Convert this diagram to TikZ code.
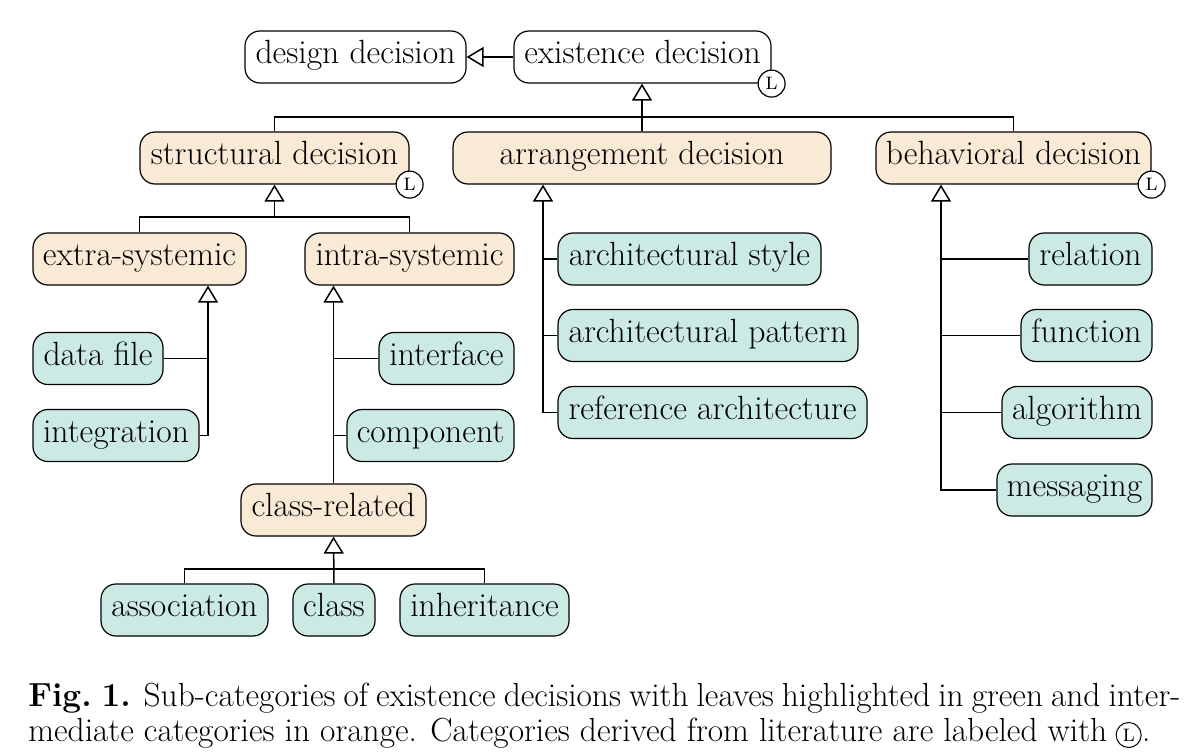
\documentclass[tikz,border=0pt]{standalone}
\usetikzlibrary{arrows.meta}
\definecolor{orng}{RGB}{248,234,212}
\definecolor{grn}{RGB}{204,234,228}
\newcommand{\dfont}{\fontsize{16.8}{20}\selectfont}
\newcommand{\cfont}{\fontsize{16.7}{20}\selectfont}
\begin{document}
\begin{tikzpicture}[x=0.5pt,y=-0.5pt,
  box/.style={draw, rounded corners=7.5pt, minimum height=26pt, inner sep=0pt, font=\dfont, line width=0.6pt, text height=0.88em, text depth=0.2em},
  plain/.style={box, fill=white},
  inter/.style={box, fill=orng},
  leaf/.style={box, fill=grn},
  inh/.style={-{Triangle[open,width=10pt,length=8.5pt]}, line width=0.75pt},
  con/.style={line width=0.7pt},
  lit/.style={circle, draw, fill=white, inner sep=0pt, minimum size=13.5pt, font=\fontsize{12}{12}\selectfont, line width=0.6pt},
  litc/.style={circle, draw, inner sep=0pt, minimum size=12.5pt, font=\fontsize{12}{12}\selectfont, line width=0.5pt}]
\useasboundingbox (0,0) rectangle (1192,755);

\node[plain, minimum width=110.5pt] (design) at (355.5,57) {design decision};
\node[plain, minimum width=128.5pt] (exist) at (642.5,57) {existence decision};
\node[inter, minimum width=134.5pt] (struct) at (274.5,158) {structural decision};
\node[inter, minimum width=189pt] (arr) at (642,158) {arrangement decision};
\node[inter, minimum width=137.5pt] (behav) at (1013.5,158) {behavioral decision};
\node[inter, minimum width=106.5pt] (extra) at (139.5,259) {extra-systemic};
\node[inter, minimum width=104.5pt] (intra) at (409.5,259) {intra-systemic};
\node[leaf, minimum width=65pt] (data) at (98,358.5) {data file};
\node[leaf, minimum width=83pt] (integ) at (116,435.5) {integration};
\node[leaf, minimum width=67.5pt] (iface) at (446.5,358.5) {interface};
\node[leaf, minimum width=83.5pt] (comp) at (430.5,435.5) {component};
\node[inter, minimum width=92.5pt] (clsrel) at (333.5,510) {class-related};
\node[leaf, minimum width=83.5pt] (assoc) at (184.5,610) {association};
\node[leaf, minimum width=41pt] (cls) at (334,610) {class};
\node[leaf, minimum width=84.5pt] (inher) at (484.5,610) {inheritance};
\node[leaf, minimum width=131.5pt] (astyle) at (689.5,259) {architectural style};
\node[leaf, minimum width=150pt] (apat) at (708,335.5) {architectural pattern};
\node[leaf, minimum width=154.5pt] (aref) at (712.5,412.5) {reference architecture};
\node[leaf, minimum width=61.5pt] (rel) at (1090.5,259) {relation};
\node[leaf, minimum width=65.5pt] (func) at (1086.5,335.5) {function};
\node[leaf, minimum width=75pt] (algo) at (1077,412.5) {algorithm};
\node[leaf, minimum width=77.5pt] (msg) at (1074.5,490) {messaging};

% connectors
\draw[inh] (exist.west) -- (design.east);
\coordinate (j1) at (642,117);
\draw[con] (struct.north) |- (j1) -| (behav.north);
\draw[inh] (arr.north) -- (arr.north |- exist.south);

\coordinate (j2) at (274.5,217);
\draw[con] (extra.north) |- (j2) -| (intra.north);
\draw[inh] (j2) -- (struct.south);

\coordinate (j3) at (208,435.5);
\draw[con] (data.east) -- (data.east -| j3);
\draw[inh] (integ.east) -- (j3) -- (j3 |- extra.south);

\draw[inh] (clsrel.north) -- (clsrel.north |- intra.south);
\draw[con] (iface.west) -- (iface.west -| clsrel.north);
\draw[con] (comp.west) -- (comp.west -| clsrel.north);

\coordinate (j5) at (334,569);
\draw[con] (assoc.north) |- (j5) -| (inher.north);
\draw[inh] (cls.north) -- (clsrel.south);

\coordinate (j6) at (543,412.5);
\draw[inh] (aref.west) -- (j6) -- (j6 |- arr.south);
\draw[con] (astyle.west) -- (astyle.west -| j6);
\draw[con] (apat.west) -- (apat.west -| j6);

\coordinate (j7) at (941,490);
\draw[inh] (msg.west) -- (j7) -- (j7 |- behav.south);
\draw[con] (rel.west) -- (rel.west -| j7);
\draw[con] (func.west) -- (func.west -| j7);
\draw[con] (algo.west) -- (algo.west -| j7);

% literature marks
\node[lit] (litE) at (exist.south east) {\textsc{l}};
\node[lit] (litS) at (struct.south east) {\textsc{l}};
\node[lit] (litB) at (behav.south east) {\textsc{l}};

% caption
\node[anchor=base west, inner sep=0pt, font=\cfont] (cap1) at (28,706) {\makebox[576pt][s]{\textbf{Fig.~1.} Sub-categories of existence decisions with leaves highlighted in green and inter-}};
\node[anchor=base west, inner sep=0pt, font=\cfont] (cap2) at (28,741) {mediate categories in orange. Categories derived from literature are labeled with};
\node[litc, anchor=west] (capL) at ([xshift=4pt,yshift=3pt]cap2.base east) {\textsc{l}};
\node[anchor=base west, inner sep=0pt, font=\cfont] (capdot) at (capL.east |- cap2.base) {.};
\end{tikzpicture}
\end{document}
